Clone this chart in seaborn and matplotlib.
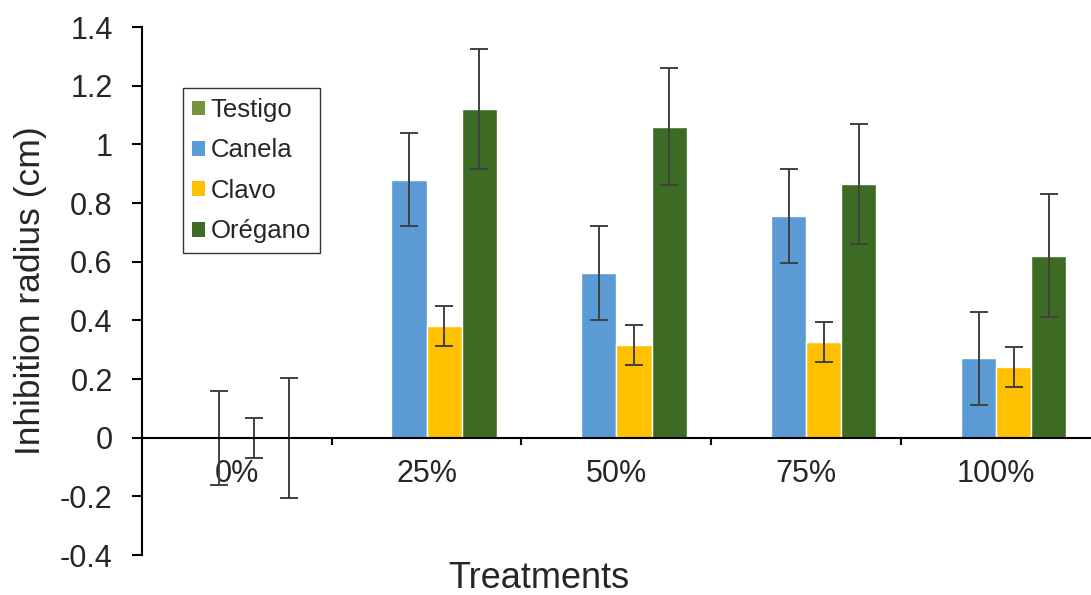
import numpy as np
import pandas as pd
import matplotlib
matplotlib.use("Agg")
import matplotlib.pyplot as plt
from matplotlib.patches import Patch
import seaborn as sns

# data
treatments = ["0%", "25%", "50%", "75%", "100%"]
oils = ["Testigo", "Canela", "Clavo", "Orégano"]
testigo = [0, 0, 0, 0, 0]
canela = [0, 0.88, 0.56, 0.755, 0.27]
clavo = [0, 0.38, 0.315, 0.325, 0.24]
oregano = [0, 1.12, 1.06, 0.865, 0.62]
testigo_err = [0, 0, 0, 0, 0]
canela_err = [0.16, 0.16, 0.16, 0.16, 0.16]
clavo_err = [0.068, 0.068, 0.068, 0.068, 0.068]
oregano_err = [0.205, 0.205, 0.2, 0.205, 0.21]

colors = ["#77933C", "#5B9BD5", "#FFC000", "#3E6B24"]

values = [testigo, canela, clavo, oregano]
errors = [testigo_err, canela_err, clavo_err, oregano_err]

rows = []
for oil, vals, errs in zip(oils, values, errors):
    for t, v, e in zip(treatments, vals, errs):
        rows.append({"Treatment": t, "Oil": oil, "Radius": v, "Err": e})
df = pd.DataFrame(rows)

sns.set_style("white")
plt.rcParams["font.family"] = ["Liberation Sans", "DejaVu Sans"]

fig = plt.figure(figsize=(10.91, 5.95), dpi=100)
ax = fig.add_axes([0.130, 0.0672, 0.870, 0.8874])

sns.barplot(data=df, x="Treatment", y="Radius", hue="Oil", hue_order=oils,
            order=treatments, palette=colors, width=0.74, errorbar=None,
            saturation=1, legend=False, ax=ax)

# error bars at each bar centre (none for the zero-error control)
for container, oil in zip(ax.containers, oils):
    sub = df[df["Oil"] == oil].set_index("Treatment").loc[treatments]
    for bar, (_, r) in zip(container, sub.iterrows()):
        if r["Err"] <= 0:
            continue
        xc = bar.get_x() + bar.get_width() / 2
        ax.errorbar(xc, r["Radius"], yerr=r["Err"], fmt="none",
                    ecolor="#404040", elinewidth=1.4, capsize=6.5, capthick=1.4)

ax.set_xlim(-0.5, 4.5)
ax.set_ylim(-0.4, 1.4)
ax.set_yticks(np.arange(-0.4, 1.41, 0.2))
ax.set_yticklabels(["-0.4", "-0.2", "0", "0.2", "0.4", "0.6", "0.8", "1", "1.2", "1.4"])

for s in ["top", "right"]:
    ax.spines[s].set_visible(False)
ax.spines["bottom"].set_position(("data", 0))
for s in ["bottom", "left"]:
    ax.spines[s].set_linewidth(1.5)
    ax.spines[s].set_color("black")

ax.set_xticks(np.arange(0.5, 4.0, 1), minor=True)
ax.tick_params(axis="x", which="major", length=0, pad=15, labelsize=22)
ax.tick_params(axis="x", which="minor", direction="out", length=5, width=1.5,
               color="black", bottom=True)
ax.tick_params(axis="y", which="major", direction="out", length=7, width=1.5,
               color="black", left=True, pad=14, labelsize=22)

ax.set_ylabel("Inhibition radius (cm)", fontsize=25.5)
ax.yaxis.set_label_coords(-0.100, 0.5)
ax.set_xlabel("Treatments", fontsize=26)
ax.xaxis.set_label_coords(0.4186, -0.012)

handles = [Patch(facecolor=c, edgecolor="none") for c in colors]
leg = ax.legend(handles, oils, loc="upper left", bbox_to_anchor=(0.043, 0.884),
                borderaxespad=0, fontsize=18.5, handlelength=0.5, handleheight=0.5,
                handletextpad=0.2, labelspacing=0.64, frameon=True, fancybox=False,
                borderpad=0.38)
leg.get_frame().set_edgecolor("black")
leg.get_frame().set_linewidth(1.0)

fig.savefig("out.png", dpi=100)
